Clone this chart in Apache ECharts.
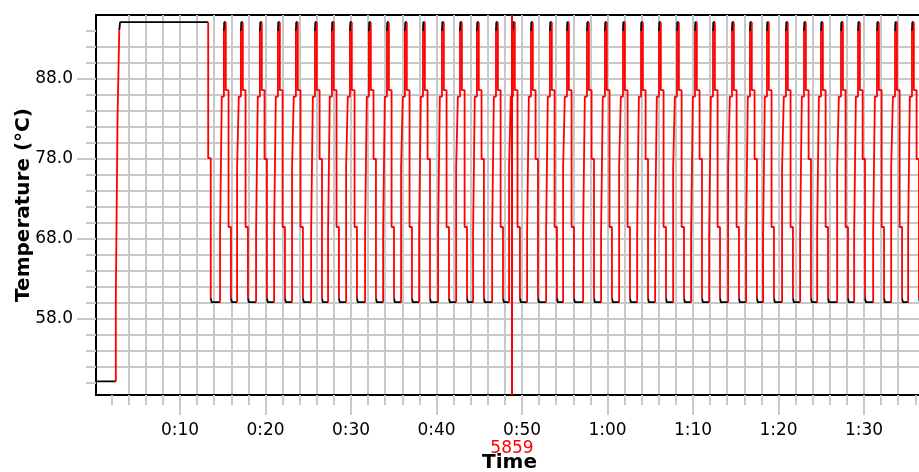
<!DOCTYPE html>
<html>
<head>
<meta charset="utf-8">
<script src="https://cdn.jsdelivr.net/npm/echarts@6/dist/echarts.min.js"></script>
<style>
  html, body { margin: 0; padding: 0; background: #fff; }
  #chart { width: 919px; height: 472px; }
</style>
</head>
<body>
<div id="chart"></div>
<script>
// x in minutes, y in °C

// warm-up before cycling
const preHold = [[0.18, 50.2], [2.5, 50.2]]
const preRamp = [[2.5, 50.2], [2.5, 61.0], [2.7, 61.0], [2.7, 83.1], [2.9, 83.1], [2.9, 94.1]]
const longHold = [[2.9, 94.1], [3.0, 95.1], [13.3, 95.1]]
const firstDrop = [[13.3, 95.1], [13.3, 78.1], [13.6, 78.1], [13.6, 60.6]]

// time of each cycle's top (min)
const cyclePeaks = [15.26, 17.25, 19.47, 21.58, 23.68, 25.91, 27.89, 30.00, 32.22, 34.33,
  36.43, 38.54, 40.76, 42.87, 44.85, 47.08, 49.06, 51.17, 53.39, 55.38,
  57.72, 59.82, 61.93, 64.04, 66.14, 68.25, 70.35, 72.46, 74.68, 76.78,
  78.77, 80.99, 83.10, 85.09, 87.43, 89.42, 91.64, 93.75, 95.73]
// lower step on the way up / down
const riseStep = [68.7, 76.9, 68.7, 68.7, 76.9, 68.7, 68.7, 76.9, 68.7, 68.7,
  76.9, 68.7, 68.7, 76.9, 68.7, 68.7, 76.9, 68.7, 68.7, 76.9,
  68.7, 68.7, 76.9, 68.7, 68.7, 76.9, 68.7, 68.7, 76.9, 68.7,
  68.7, 76.9, 68.7, 68.7, 76.9, 68.7, 68.7, 76.9, 68.7]
const fallStep = [69.5, 69.5, 78.0, 69.5, 69.5, 78.0, 69.5, 69.5, 78.0, 69.5,
  69.5, 78.0, 69.5, 69.5, 78.0, 69.5, 69.5, 78.0, 69.5, 69.5,
  78.0, 69.5, 69.5, 78.0, 69.5, 69.5, 78.0, 69.5, 69.5, 78.0,
  69.5, 69.5, 78.0, 69.5, 69.5, 78.0, 69.5, 69.5, 78.0]
// fixed levels of a cycle
const topTemp = 95.1, nearTop = 94.0, upperRise = 85.8, upperFall = 86.6
const lowTemp = 60.1, dropEnd = 60.6
// edges of a cycle relative to its top (min)
const edgeOffsets = [-0.57, -0.37, -0.12, 0.1, 0.42, 0.7]

const cursorTime = 48.83
const cursorLabel = '5859'

const tempTicks = [58, 68, 78, 88]
const timeTicks = [10, 20, 30, 40, 50, 60, 70, 80, 90]
const timeLabels = ['0:10', '0:20', '0:30', '0:40', '0:50', '1:00', '1:10', '1:20', '1:30']

const xMin = 0.18, xMax = 96.9
const yMin = 48.5, yMax = 96

// grid lines every 2 min / 2 °C
const timeGrid = []
for (let t = 2; t < xMax; t += 2) timeGrid.push(t)
const tempGrid = []
for (let v = 50; v < yMax; v += 2) tempGrid.push(v)

// black = holds, red = ramps, each broken by nulls
const blackData = []
const redData = []
const hold = pts => {
  pts.forEach(p => blackData.push(p))
  blackData.push([pts[pts.length - 1][0], null])
}
const ramp = pts => {
  pts.forEach(p => redData.push(p))
  redData.push([pts[pts.length - 1][0], null])
}

hold(preHold)
ramp(preRamp)
hold(longHold)
ramp(firstDrop)
let lastEnd = 13.6
cyclePeaks.forEach((p, i) => {
  const e = edgeOffsets.map(o => +(p + o).toFixed(3))
  hold([[lastEnd, dropEnd], [lastEnd + 0.1, lowTemp], [e[0], lowTemp]])
  ramp([[e[0], lowTemp], [e[0], riseStep[i]], [e[1], riseStep[i]], [e[1], upperRise],
    [e[2], upperRise], [e[2], nearTop]])
  hold([[e[2], nearTop], [e[2] + 0.04, topTemp], [e[3], topTemp]])
  ramp([[e[3], topTemp], [e[3], upperFall], [e[4], upperFall], [e[4], fallStep[i]],
    [e[5], fallStep[i]], [e[5], dropEnd]])
  lastEnd = e[5]
})
hold([[lastEnd, dropEnd], [lastEnd + 0.1, lowTemp], [xMax, lowTemp]])

const gridGray = '#c8c8c8'
const font = 'DejaVu Sans'

const chart = echarts.init(document.getElementById('chart'))
chart.setOption({
  animation: false,
  backgroundColor: '#fff',
  grid: {
    left: 96, top: 15, width: 827, height: 380,
    outerBoundsMode: 'none', containLabel: false,
    show: true, borderColor: '#000', borderWidth: 2, backgroundColor: 'transparent'
  },
  xAxis: [
    {
      type: 'value', min: xMin, max: xMax,
      axisLine: { onZero: false, lineStyle: { color: '#000', width: 2 } },
      axisTick: { customValues: timeGrid, length: 10, lineStyle: { color: gridGray, width: 2 } },
      axisLabel: { show: false },
      splitLine: { showMinLine: false, showMaxLine: false, lineStyle: { color: gridGray, width: 2 } }
    },
    {
      type: 'value', min: xMin, max: xMax, position: 'bottom',
      axisLine: { show: false },
      axisTick: { customValues: timeTicks, length: 20, lineStyle: { color: gridGray, width: 2 } },
      axisLabel: {
        customValues: timeTicks, margin: 27, color: '#000', fontSize: 17, fontFamily: font,
        formatter: v => timeLabels[timeTicks.indexOf(v)]
      },
      splitLine: { show: false },
      name: 'Time', nameLocation: 'middle', nameGap: 58, nameMoveOverlap: false,
      nameTextStyle: { color: '#000', fontSize: 20, fontWeight: 'bold', fontFamily: font }
    }
  ],
  yAxis: [
    {
      type: 'value', min: yMin, max: yMax,
      axisLine: { show: true, onZero: false, lineStyle: { color: '#000', width: 2 } },
      axisTick: { show: true, customValues: tempGrid, length: 10, lineStyle: { color: gridGray, width: 2 } },
      axisLabel: { show: false },
      splitLine: { showMinLine: false, showMaxLine: false, lineStyle: { color: gridGray, width: 2 } }
    },
    {
      type: 'value', min: yMin, max: yMax, position: 'left',
      axisLine: { show: false },
      axisTick: { show: true, customValues: tempTicks, length: 19, lineStyle: { color: gridGray, width: 2 } },
      axisLabel: {
        customValues: tempTicks, margin: 23, color: '#000', fontSize: 17, fontFamily: font,
        formatter: v => v.toFixed(1)
      },
      splitLine: { show: false },
      name: 'Temperature (°C)', nameLocation: 'middle', nameGap: 62, nameMoveOverlap: false,
      nameTextStyle: { color: '#000', fontSize: 20, fontWeight: 'bold', fontFamily: font }
    }
  ],
  series: [
    {
      name: 'hold', type: 'line', data: blackData, symbol: 'none', connectNulls: false,
      lineStyle: { color: '#000', width: 1.8 }, z: 2
    },
    {
      name: 'ramp', type: 'line', data: redData, symbol: 'none', connectNulls: false,
      lineStyle: { color: '#ff0000', width: 1.8 }, z: 3,
      markLine: {
        silent: true, symbol: 'none', animation: false,
        lineStyle: { color: '#ff0000', width: 2, type: 'solid' },
        label: {
          show: true, position: 'start', distance: 45, formatter: cursorLabel,
          color: '#ff0000', fontSize: 17, fontFamily: font
        },
        data: [{ xAxis: cursorTime }]
      }
    }
  ]
})
</script>
</body>
</html>
